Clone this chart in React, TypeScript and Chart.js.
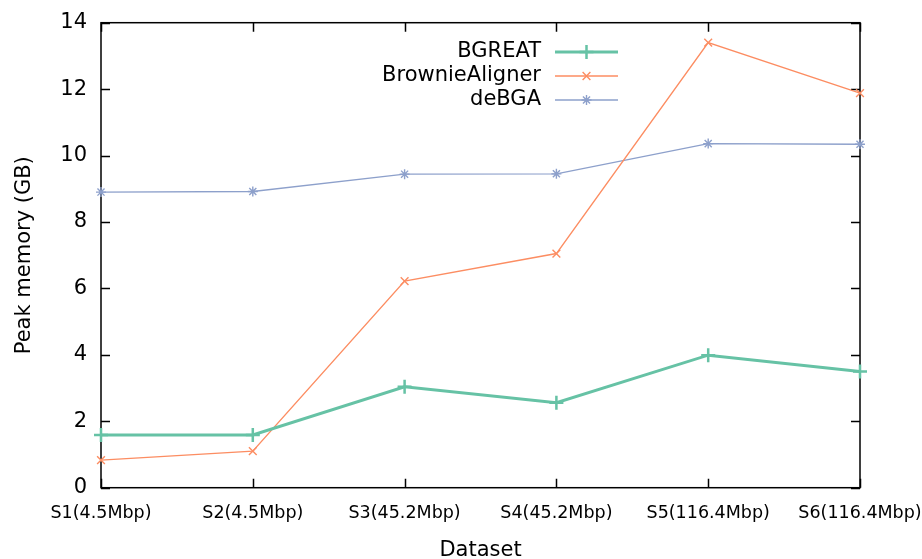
import React, { useEffect, useRef } from "react";
import { Chart, registerables } from "chart.js";

Chart.register(...registerables);

const categories = [
  "S1(4.5Mbp)",
  "S2(4.5Mbp)",
  "S3(45.2Mbp)",
  "S4(45.2Mbp)",
  "S5(116.4Mbp)",
  "S6(116.4Mbp)",
];
const bgreatValues = [1.59, 1.59, 3.04, 2.56, 3.99, 3.5];
const brownieValues = [0.83, 1.1, 6.22, 7.05, 13.4, 11.88];
const debgaValues = [8.9, 8.92, 9.44, 9.45, 10.36, 10.34];
const yMin = 0;
const yMax = 14;
const yStep = 2;

const FONT = "'DejaVu Sans', sans-serif";

function drawMarker(ctx: CanvasRenderingContext2D, style: string, x: number, y: number, r: number) {
  ctx.beginPath();
  if (style === "cross" || style === "star") {
    ctx.moveTo(x - r, y);
    ctx.lineTo(x + r, y);
    ctx.moveTo(x, y - r);
    ctx.lineTo(x, y + r);
  }
  if (style === "crossRot" || style === "star") {
    const d = r * 0.7071;
    ctx.moveTo(x - d, y - d);
    ctx.lineTo(x + d, y + d);
    ctx.moveTo(x - d, y + d);
    ctx.lineTo(x + d, y - d);
  }
  ctx.stroke();
}

const framePlugin = {
  id: "gnuFrame",
  beforeDatasetsDraw(chart: any) {
    const { ctx, chartArea, scales } = chart;
    const { left, right, top, bottom } = chartArea;
    ctx.save();
    ctx.strokeStyle = "#000";
    ctx.lineWidth = 1.5;
    const tl = 9;
    ctx.beginPath();
    scales.y.ticks.forEach((t: any) => {
      const y = Math.round(scales.y.getPixelForValue(t.value)) + 0.5;
      ctx.moveTo(left, y);
      ctx.lineTo(left + tl, y);
      ctx.moveTo(right, y);
      ctx.lineTo(right - tl, y);
    });
    scales.x.ticks.forEach((_t: any, i: number) => {
      const x = Math.round(scales.x.getPixelForTick(i)) + 0.5;
      ctx.moveTo(x, bottom);
      ctx.lineTo(x, bottom - tl);
      ctx.moveTo(x, top);
      ctx.lineTo(x, top + tl);
    });
    ctx.stroke();
    ctx.strokeRect(left, top, right - left, bottom - top);
    ctx.restore();
  },
};

const legendPlugin = {
  id: "gnuLegend",
  afterDraw(chart: any) {
    const { ctx } = chart;
    const textRight = 541;
    const lineStart = 555;
    const lineEnd = 618;
    const rows = [52, 76, 100];
    ctx.save();
    chart.data.datasets.forEach((ds: any, i: number) => {
      const y = rows[i];
      ctx.font = `21px ${FONT}`;
      ctx.fillStyle = "#000";
      ctx.textAlign = "right";
      ctx.textBaseline = "middle";
      ctx.fillText(ds.label, textRight, y);
      ctx.strokeStyle = ds.borderColor;
      ctx.lineWidth = ds.borderWidth;
      ctx.beginPath();
      ctx.moveTo(lineStart, y);
      ctx.lineTo(lineEnd, y);
      ctx.stroke();
      ctx.lineWidth = ds.pointBorderWidth;
      drawMarker(ctx, ds.pointStyle, (lineStart + lineEnd) / 2, y, ds.pointRadius);
    });
    ctx.restore();
  },
};

export default function App() {
  const canvasRef = useRef<HTMLCanvasElement | null>(null);

  useEffect(() => {
    if (!canvasRef.current) return;
    const chart = new Chart(canvasRef.current, {
      type: "line",
      data: {
        labels: categories,
        datasets: [
          {
            label: "BGREAT",
            data: bgreatValues,
            borderColor: "#66c2a5",
            backgroundColor: "#66c2a5",
            borderWidth: 3,
            pointStyle: "cross",
            pointRadius: 7,
            pointBorderWidth: 2.5,
            pointHoverRadius: 7,
            tension: 0,
            clip: false as any,
          },
          {
            label: "BrownieAligner",
            data: brownieValues,
            borderColor: "#fc8d62",
            backgroundColor: "#fc8d62",
            borderWidth: 1.4,
            pointStyle: "crossRot",
            pointRadius: 5.5,
            pointBorderWidth: 1.4,
            pointHoverRadius: 5.5,
            tension: 0,
            clip: false as any,
          },
          {
            label: "deBGA",
            data: debgaValues,
            borderColor: "#8da0cb",
            backgroundColor: "#8da0cb",
            borderWidth: 1.4,
            pointStyle: "star",
            pointRadius: 5,
            pointBorderWidth: 1.4,
            pointHoverRadius: 5,
            tension: 0,
            clip: false as any,
          },
        ],
      },
      options: {
        animation: false,
        responsive: true,
        maintainAspectRatio: false,
        events: [],
        layout: { padding: { left: 0, right: 62, top: 22.7, bottom: 0 } },
        plugins: {
          legend: { display: false },
          tooltip: { enabled: false },
        },
        scales: {
          x: {
            type: "category",
            offset: false,
            grid: { display: false, drawTicks: false },
            border: { display: false },
            ticks: {
              color: "#000",
              font: { family: FONT, size: 17.5 },
              padding: 15,
              maxRotation: 0,
              autoSkip: false,
            },
            title: {
              display: true,
              text: "Dataset",
              color: "#000",
              font: { family: FONT, size: 21, lineHeight: 0.8 },
              padding: { top: 0, bottom: 0 },
            },
            afterFit(scale: any) {
              scale.height = 559 - 487.7;
              scale.paddingLeft = 0;
              scale.paddingRight = 0;
            },
          },
          y: {
            min: yMin,
            max: yMax,
            grid: { display: false, drawTicks: false },
            border: { display: false },
            ticks: {
              stepSize: yStep,
              color: "#000",
              font: { family: FONT, size: 21 },
              padding: 14,
            },
            title: {
              display: true,
              text: "Peak memory (GB)",
              color: "#000",
              font: { family: FONT, size: 21, lineHeight: 1 },
              padding: { top: 14, bottom: 0 },
            },
            afterFit(scale: any) {
              scale.width = 101;
              scale.paddingTop = 0;
              scale.paddingBottom = 0;
            },
          },
        },
      },
      plugins: [framePlugin, legendPlugin],
    });
    return () => chart.destroy();
  }, []);

  return (
    <div style={{ position: "absolute", left: 0, top: 0, width: 922, height: 559, background: "#fff" }}>
      <canvas ref={canvasRef} />
    </div>
  );
}
